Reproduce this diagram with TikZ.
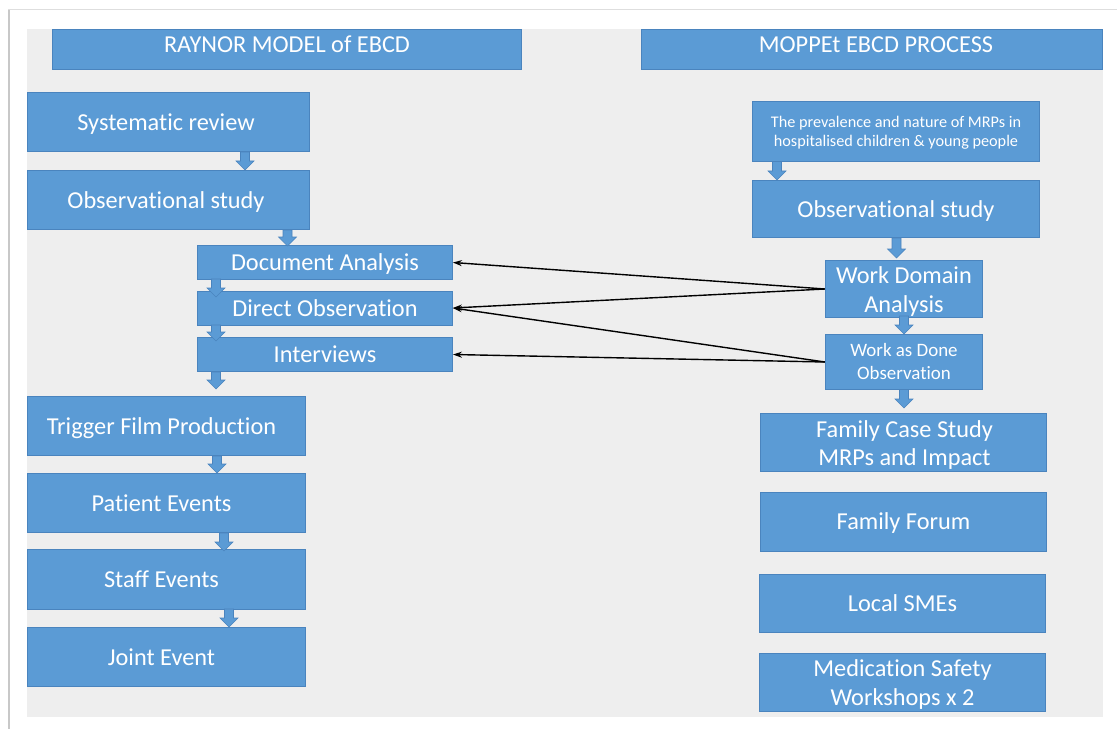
\documentclass[tikz,border=0pt]{standalone}
\usepackage{fontspec}
\setmainfont{Carlito}[Ligatures=NoCommon]
\usetikzlibrary{arrows.meta}

\definecolor{boxblue}{HTML}{5B9BD5}
\definecolor{boxline}{HTML}{4A84BE}
\definecolor{panelgray}{HTML}{EEEEEE}
\definecolor{frameline}{HTML}{C8C8C8}

% box label: trailing kern, vertical shift, centred lines
\newcommand\boxtext[3]{\raisebox{#2}[\height][\depth]{%
  \begin{tabular}{@{}c@{}}#3\end{tabular}}\kern#1}

% downward block arrow: x, top y, tip y
\newcommand\blockdown[3]{%
  \filldraw[blockarrow] (#1-4.5,#2) -- (#1+4.5,#2) -- (#1+4.5,#3-9) -- (#1+9,#3-9)
    -- (#1,#3) -- (#1-9,#3-9) -- (#1-4.5,#3-9) -- cycle;}

\begin{document}
\begin{tikzpicture}[x=1bp,y=-1bp,
  box/.style={draw=boxline, line width=0.8bp, fill=boxblue, text=white,
    inner sep=0pt, font=\fontsize{24.4}{29}\selectfont},
  smalltext/.style={font=\fontsize{16.3}{19.4}\selectfont},
  midtext/.style={font=\fontsize{19}{22.6}\selectfont},
  blockarrow/.style={fill=boxblue, draw=boxline, line width=0.6bp},
  link/.style={black, line width=1.4bp, -{Stealth[length=9bp,width=6bp]}}]

\useasboundingbox (0,0) rectangle (1117,729);
\fill[white] (0,0) rectangle (1117,729);
\draw[frameline!60, line width=1bp] (8,10) -- (1117,10);
\draw[frameline, line width=2bp] (9,10) -- (9,729);
\fill[panelgray] (27,29) rectangle (1103,717);

% column headings
\node[box, minimum width=470, minimum height=40] (raynor) at (287,49)
  {\boxtext{0bp}{2.4bp}{RAYNOR MODEL of EBCD}};
\node[box, minimum width=462, minimum height=40] (moppet) at (872,49)
  {\boxtext{-8bp}{2.4bp}{MOPPEt EBCD PROCESS}};

% Raynor model steps
\node[box, minimum width=283, minimum height=60] (sysrev) at (168.5,122)
  {\boxtext{5bp}{-2.4bp}{Systematic review}};
\node[box, minimum width=283, minimum height=60] (obsL) at (168.5,200)
  {\boxtext{5bp}{-2.4bp}{Observational study}};
\node[box, minimum width=256, minimum height=34] (docan) at (325,262.5)
  {\boxtext{0bp}{-2.4bp}{Document Analysis}};
\node[box, minimum width=256, minimum height=34] (dirobs) at (325,308)
  {\boxtext{0bp}{-2.4bp}{Direct Observation}};
\node[box, minimum width=256, minimum height=34] (interv) at (325,354.5)
  {\boxtext{0bp}{-2.4bp}{Interviews}};
\node[box, minimum width=279, minimum height=60] (trigger) at (166.5,426)
  {\boxtext{10bp}{-2.4bp}{Trigger Film Production}};
\node[box, minimum width=279, minimum height=60] (patient) at (166.5,503)
  {\boxtext{10bp}{-2.4bp}{Patient Events}};
\node[box, minimum width=279, minimum height=60] (staff) at (166.5,579.5)
  {\boxtext{10bp}{-2.4bp}{Staff Events}};
\node[box, minimum width=279, minimum height=60] (joint) at (166.5,657)
  {\boxtext{10bp}{-2.4bp}{Joint Event}};

% MOPPEt process steps
\node[box, smalltext, minimum width=288, minimum height=60] (preval) at (896,131.5)
  {\boxtext{0bp}{-1.6bp}{The prevalence and nature of MRPs in\\hospitalised children \& young people}};
\node[box, minimum width=288, minimum height=58] (obsR) at (896,209)
  {\boxtext{0bp}{-2.8bp}{Observational study}};
\node[box, minimum width=158, minimum height=56] (wda) at (904,289)
  {\boxtext{0bp}{-2.8bp}{Work Domain\\Analysis}};
\node[box, midtext, minimum width=158, minimum height=55] (wad) at (904,362)
  {\boxtext{0bp}{-1.5bp}{Work as Done\\Observation}};
\node[box, minimum width=287, minimum height=59] (fcs) at (903.5,442.5)
  {\boxtext{-2bp}{-3.2bp}{Family Case Study\\MRPs and Impact}};
\node[box, minimum width=287, minimum height=60] (ff) at (903.5,522)
  {\boxtext{0bp}{-1.6bp}{Family Forum}};
\node[box, minimum width=287, minimum height=59] (sme) at (902.5,603.5)
  {\boxtext{0bp}{-2bp}{Local SMEs}};
\node[box, minimum width=287, minimum height=59] (med) at (902.5,682.5)
  {\boxtext{0bp}{-3bp}{Medication Safety\\Workshops x 2}};

% block arrows between steps
\blockdown{245}{152}{170}
\blockdown{287.5}{230}{246}
\blockdown{216}{279}{297}
\blockdown{216}{325}{341}
\blockdown{216}{372}{389}
\blockdown{217}{456}{473}
\blockdown{224}{533}{551}
\blockdown{229}{609}{627}
\blockdown{777}{161.5}{180}
\blockdown{896.5}{238}{258}
\blockdown{904}{316}{334}
\blockdown{904}{389.5}{408}

% links from MOPPEt analysis to Raynor data collection
\draw[link] (wda.west) -- (docan.east);
\draw[link] (wda.west) -- (dirobs.east);
\draw[link] (wad.west) -- (dirobs.east);
\draw[link] (wad.west) -- (interv.east);
\end{tikzpicture}
\end{document}
